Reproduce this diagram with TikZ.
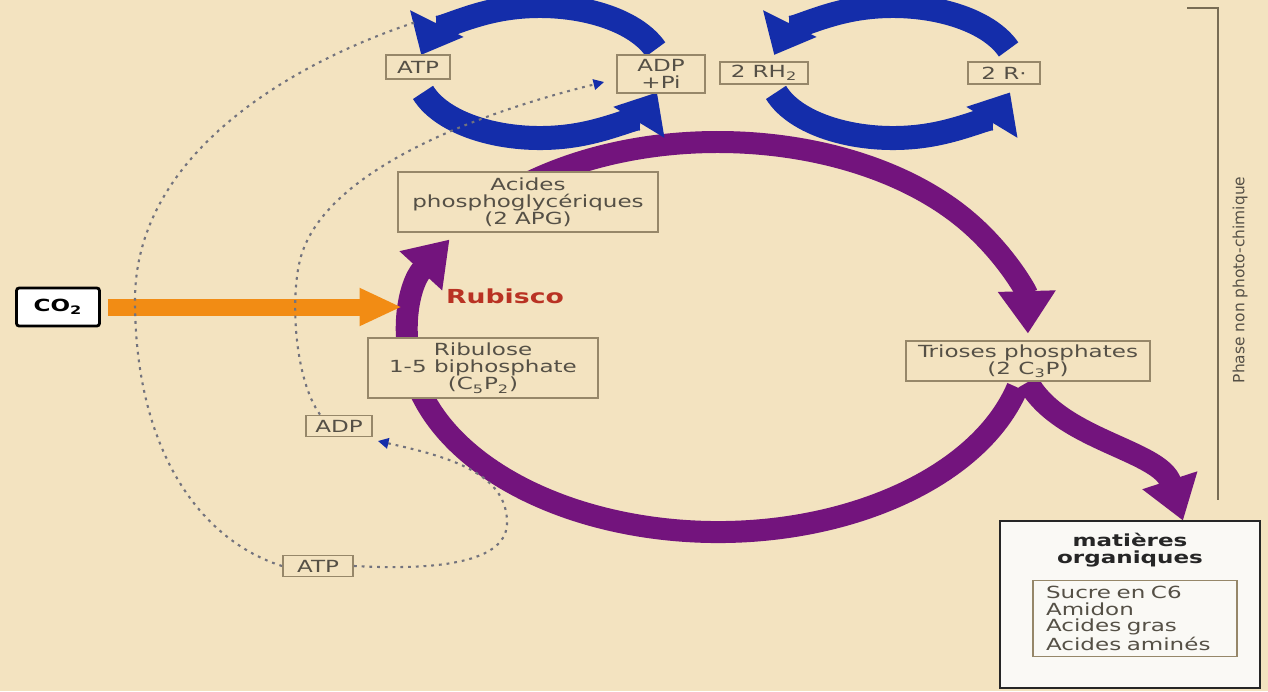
\documentclass[tikz,border=0pt]{standalone}
\usepackage{fontspec}
\setmainfont{DejaVu Sans}[FakeStretch=1.38]
\newfontfamily\sidefont{DejaVu Sans}
\usepackage{tikz}
\usetikzlibrary{positioning,arrows.meta,calc}
\definecolor{bgbeige}{RGB}{243,227,192}
\definecolor{boxline}{RGB}{150,135,105}
\definecolor{boxtext}{RGB}{85,80,70}
\definecolor{cycblue}{RGB}{20,45,170}
\definecolor{cycpurple}{RGB}{115,20,125}
\definecolor{co2orange}{RGB}{242,140,20}
\definecolor{rubred}{RGB}{185,50,35}
\definecolor{dotgray}{RGB}{115,115,125}
\definecolor{matfill}{RGB}{250,249,245}
\tikzset{
  molbox/.style={draw=boxline, line width=1.1pt, fill=bgbeige, align=center, text=boxtext,
    font=\fontsize{9.5}{9.8}\selectfont, inner sep=1pt},
  bluecycle/.style={line width=0.48cm, draw=cycblue, -{Triangle[length=0.7cm, width=1.15cm]}},
  calvincycle/.style={line width=0.44cm, draw=cycpurple, -{Triangle[length=0.85cm, width=1.1cm]}},
  moldots/.style={draw=dotgray, line width=1.2pt, dash pattern=on 1.6pt off 2.8pt},
  moltip/.style={-{Triangle[length=6pt, width=6pt, color=cycblue]}},
}

\begin{document}
\begin{tikzpicture}[x=0.02cm, y=0.02cm]
  \fill[bgbeige] (0,0) rectangle (1268,-691);
  \useasboundingbox (0,0) rectangle (1268,-691);
  \coordinate (calvin) at (718,-337);
  \coordinate (ringL) at (540,-72);
  \coordinate (ringR) at (893,-72);
  \coordinate (fixation) at (402,-307);
  \coordinate (atpend) at (416,-22);

  % boxes first (for anchors), drawn again on top later
  \path (1028,-361) node[molbox, minimum width=4.88cm, minimum height=0.8cm] (trioses) {Trioses phosphates\\(2 C\textsubscript{3}P)};
  \path (1130,-604.5) node[minimum width=5.2cm, minimum height=3.34cm] (mat) {};
  \path (58,-307) node[minimum width=1.66cm, minimum height=0.76cm] (co2) {};

  % cycle de Calvin
  \draw[calvincycle] ($(calvin)+(127:310 and 195)$) arc[start angle=127, end angle=1, x radius=310, y radius=195];
  \draw[calvincycle] ($(calvin)+(-15:310 and 195)$) arc[start angle=-15, end angle=-210, x radius=310, y radius=195];
  \draw[calvincycle] (trioses.south) .. controls (1060,-440) and (1160,-450) .. ([xshift=1.06cm]mat.north);

  % cycles ATP / RH2
  \draw[bluecycle] ($(ringL)+(20:123 and 66)$) arc[start angle=20, end angle=165, x radius=123, y radius=66];
  \draw[bluecycle] ($(ringL)+(198:123 and 66)$) arc[start angle=198, end angle=342, x radius=123, y radius=66];
  \draw[bluecycle] ($(ringR)+(20:123 and 66)$) arc[start angle=20, end angle=165, x radius=123, y radius=66];
  \draw[bluecycle] ($(ringR)+(198:123 and 66)$) arc[start angle=198, end angle=342, x radius=123, y radius=66];

  % CO2
  \draw[line width=0.34cm, draw=co2orange, shorten <=0.16cm, -{Triangle[length=0.85cm, width=0.7cm]}] (co2.east) -- (fixation);

  \node[molbox, minimum width=1.4cm, minimum height=0.42cm] (atpB) at (318,-566) {ATP};
  \node[molbox, minimum width=1.32cm, minimum height=0.42cm] (adpB) at (339,-426) {ADP};
  \node[molbox, minimum width=1.76cm, minimum height=0.76cm] (adppi) at (661,-74) {ADP\\+Pi};

  % pointilles
  \draw[moldots] (atpB.west) .. controls (200,-540) and (135,-450) .. (135,-300)
    .. controls (135,-150) and (300,-60) .. (atpend);
  \draw[moldots, moltip] ([xshift=-0.38cm]adpB.north) .. controls (295,-380) and (290,-300) .. (300,-260)
    .. controls (320,-180) and (450,-120) .. ([xshift=-0.24cm, yshift=-0.16cm]adppi.west);
  \draw[moldots, moltip] (atpB.east) .. controls (430,-570) and (510,-565) .. (507,-520)
    .. controls (505,-470) and (440,-455) .. ([xshift=0.1cm, yshift=-0.3cm]adpB.east);

  % boites
  \node[molbox, minimum width=1.28cm, minimum height=0.48cm] (atpA) at (418,-67) {ATP};
  \node[molbox, minimum width=1.76cm, minimum height=0.76cm] at (adppi) {ADP\\+Pi};
  \node[molbox, minimum width=1.76cm, minimum height=0.44cm] (rhtwo) at (764,-73) {2 RH\textsubscript{2}};
  \node[molbox, minimum width=1.44cm, minimum height=0.44cm] (rdot) at (1004,-73) {2 R·};
  \node[molbox, minimum width=5.2cm, minimum height=1.2cm] (apg) at (528,-202) {Acides\\phosphoglycériques\\(2 APG)};
  \node[molbox, minimum width=4.6cm, minimum height=1.2cm] (ribulose) at (483,-368) {Ribulose\\1-5 biphosphate\\(C\textsubscript{5}P\textsubscript{2})};
  \node[molbox, minimum width=4.88cm, minimum height=0.8cm] at (trioses) {Trioses phosphates\\(2 C\textsubscript{3}P)};
  \node[draw=black, line width=1.6pt, fill=white, rounded corners=1.5pt, minimum width=1.66cm,
    minimum height=0.76cm, font=\bfseries\fontsize{9.5}{10}\selectfont] at (co2) {CO\textsubscript{2}};
  \node[font=\bfseries\fontsize{11}{12}\selectfont, text=rubred] (rubisco) at (505,-296) {Rubisco};

  % matieres organiques
  \node[draw=black!85, line width=1.4pt, fill=matfill, minimum width=5.2cm, minimum height=3.34cm] at (mat) {};
  \node[font=\bfseries\fontsize{9.5}{9.6}\selectfont, align=center, text=black!85] (mattitle) at (1130,-550) {matières\\organiques};
  \node[draw=boxline, line width=1pt, fill=matfill, text=boxtext, text width=3.56cm, inner xsep=0.26cm,
    minimum height=1.5cm, align=left, font=\fontsize{9.5}{9.4}\selectfont] (matlist) at (1135,-618.5)
    {Sucre en C6\\Amidon\\Acides gras\\Acides aminés};

  % phase
  \draw[draw=boxline!80!black, line width=1.2pt] (1187,-8) -- (1218,-8) -- (1218,-500);
  \node[rotate=90, font=\sidefont\fontsize{8.8}{10}\selectfont, text=boxtext] (phase) at (1240,-280) {Phase non photo-chimique};
\end{tikzpicture}
\end{document}
